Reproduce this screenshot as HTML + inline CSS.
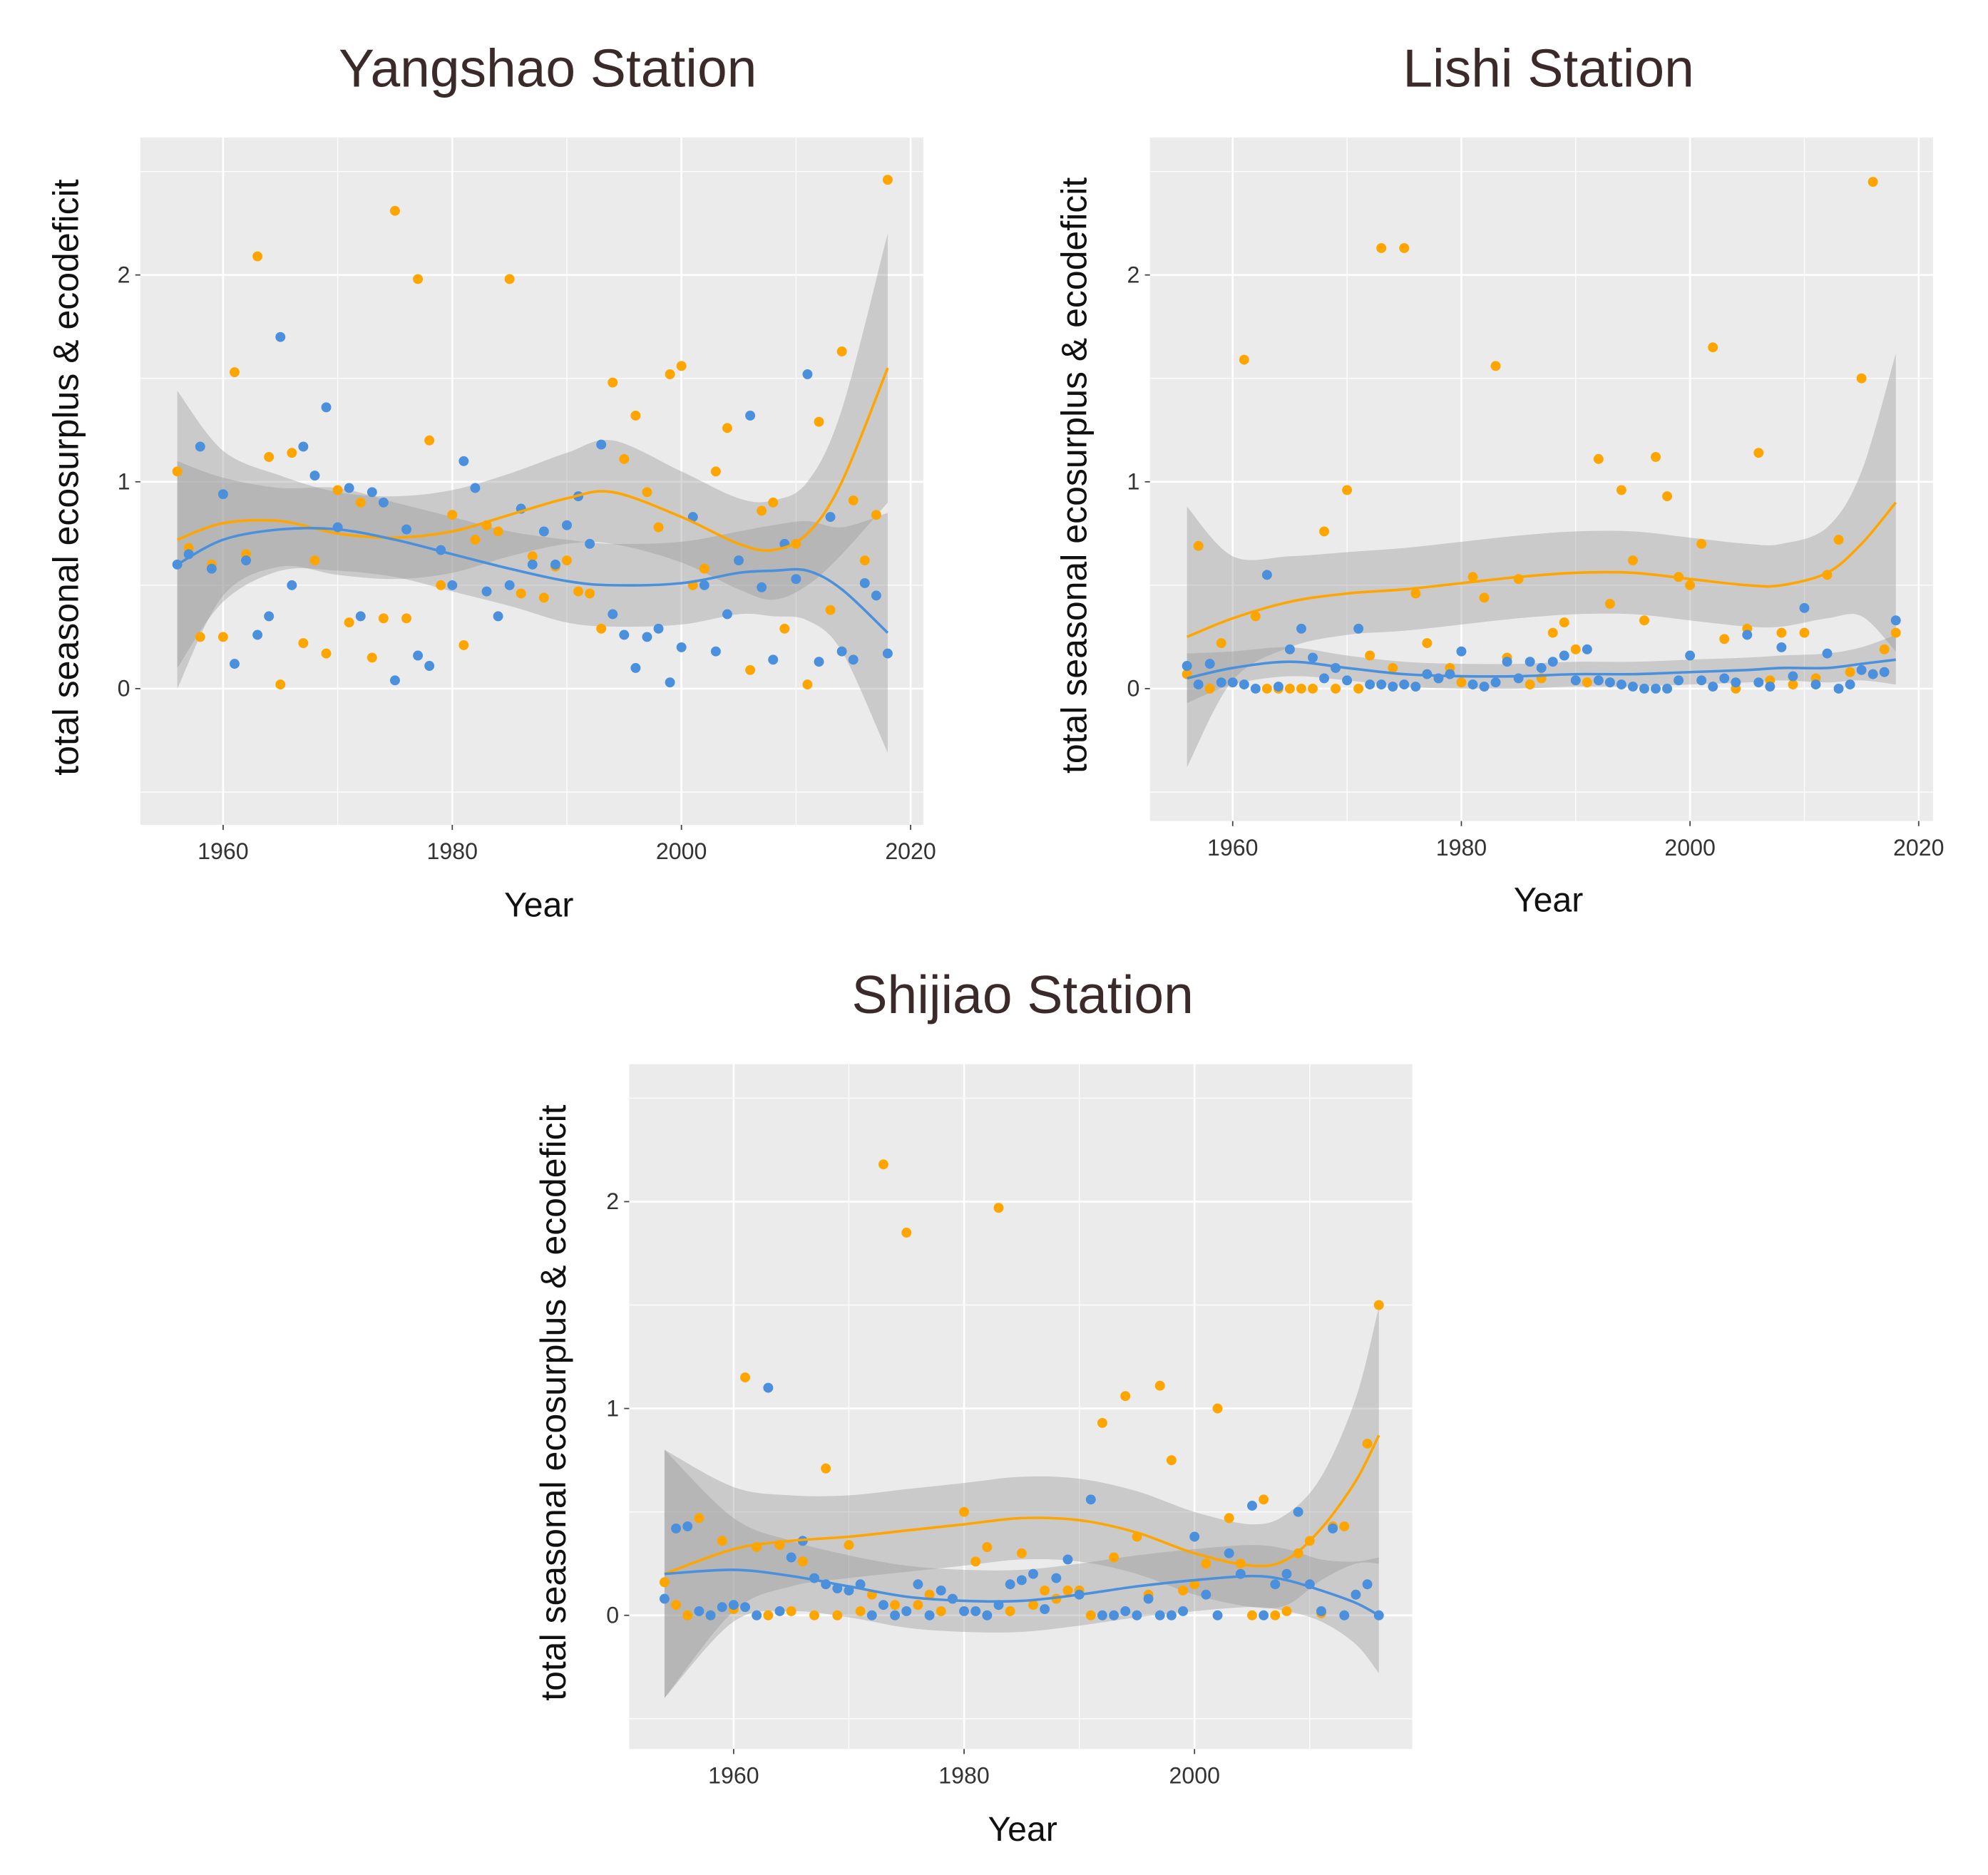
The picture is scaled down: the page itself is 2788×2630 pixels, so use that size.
<!DOCTYPE html>
<html><head><meta charset="utf-8"><style>
html,body{margin:0;padding:0;background:#fff;}
svg{display:block;}
</style></head><body>
<svg id="chart" xmlns="http://www.w3.org/2000/svg" width="2788" height="2630" viewBox="0 0 1561 1473" font-family="'Liberation Sans', sans-serif"></svg>
<script>
// ---- Data ----
const yangYears0 = 1956;
const yangOrange = [1.05,.68,.25,.6,.25,1.53,.65,2.09,1.12,.02,1.14,.22,.62,.17,.96,.32,.9,.15,.34,2.31,.34,1.98,1.2,.5,.84,.21,.72,.79,.76,1.98,.46,.64,.44,.59,.62,.47,.46,.29,1.48,1.11,1.32,.95,.78,1.52,1.56,.5,.58,1.05,1.26,.62,.09,.86,.9,.29,.7,.02,1.29,.38,1.63,.91,.62,.84,2.46];
const yangBlue = [.6,.65,1.17,.58,.94,.12,.62,.26,.35,1.7,.5,1.17,1.03,1.36,.78,.97,.35,.95,.9,.04,.77,.16,.11,.67,.5,1.1,.97,.47,.35,.5,.87,.6,.76,.6,.79,.93,.7,1.18,.36,.26,.1,.25,.29,.03,.2,.83,.5,.18,.36,.62,1.32,.49,.14,.7,.53,1.52,.13,.83,.18,.14,.51,.45,.17];
const yangTrendYears = [1956,1960,1965,1970,1975,1980,1985,1990,1994,2000,2005,2008,2011,2014,2018];
const yangOrangeTrend = [0.72,0.8,0.81,0.75,0.73,0.76,0.84,0.92,0.95,0.83,0.7,0.67,0.75,1.0,1.55];
const yangOrangeSE = [0.72,0.35,0.22,0.2,0.2,0.2,0.2,0.22,0.25,0.22,0.22,0.24,0.25,0.35,0.65];
const yangBlueTrend = [0.6,0.72,0.77,0.77,0.72,0.65,0.58,0.52,0.5,0.51,0.56,0.57,0.57,0.48,0.27];
const yangBlueSE = [0.5,0.3,0.2,0.2,0.18,0.18,0.18,0.2,0.2,0.2,0.2,0.22,0.24,0.3,0.58];

const lishiYears0 = 1956;
const lishiOrange = [.07,.69,0,.22,.03,1.59,.35,0,0,0,0,0,.76,0,.96,0,.16,2.13,.1,2.13,.46,.22,.05,.1,.03,.54,.44,1.56,.15,.53,.02,.05,.27,.32,.19,.03,1.11,.41,.96,.62,.33,1.12,.93,.54,.5,.7,1.65,.24,0,.29,1.14,.04,.27,.02,.27,.05,.55,.72,.08,1.5,2.45,.19,.27];
const lishiBlue = [.11,.02,.12,.03,.03,.02,0,.55,.01,.19,.29,.15,.05,.1,.04,.29,.02,.02,.01,.02,.01,.07,.05,.07,.18,.02,.01,.03,.13,.05,.13,.1,.13,.16,.04,.19,.04,.03,.02,.01,0,0,0,.04,.16,.04,.01,.05,.03,.26,.03,.01,.2,.06,.39,.02,.17,0,.02,.09,.07,.08,.33];
const lishiTrendYears = [1956,1960,1965,1970,1975,1980,1985,1990,1995,2000,2005,2008,2012,2015,2018];
const lishiOrangeTrend = [0.25,0.34,0.42,0.46,0.48,0.51,0.54,0.56,0.56,0.53,0.5,0.5,0.56,0.7,0.9];
const lishiOrangeSE = [0.63,0.3,0.22,0.2,0.2,0.2,0.2,0.2,0.2,0.2,0.2,0.2,0.22,0.35,0.72];
const lishiBlueTrend = [0.05,0.1,0.13,0.1,0.07,0.06,0.06,0.07,0.07,0.08,0.09,0.1,0.1,0.12,0.14];
const lishiBlueSE = [0.12,0.08,0.07,0.06,0.06,0.06,0.06,0.06,0.06,0.06,0.06,0.06,0.07,0.08,0.12];

const shiYears0 = 1954;
const shiOrange = [.16,.05,0,.47,0,.36,.03,1.15,.33,0,.34,.02,.26,0,.71,0,.34,.02,.1,2.18,.05,1.85,.05,.1,.02,.08,.5,.26,.33,1.97,.02,.3,.05,.12,.08,.12,.12,0,.93,.28,1.06,.38,.1,1.11,.75,.12,.15,.25,1.0,.47,.25,0,.56,0,.02,.3,.36,.01,.43,.43,.1,.83,1.5];
const shiBlue = [.08,.42,.43,.02,0,.04,.05,.04,0,1.1,.02,.28,.36,.18,.15,.13,.12,.15,0,.05,0,.02,.15,0,.12,.08,.02,.02,0,.05,.15,.17,.2,.03,.18,.27,.1,.56,0,0,.02,0,.08,0,0,.02,.38,.1,0,.3,.2,.53,0,.15,.2,.5,.15,.02,.42,0,.1,.15,0];
const shiTrendYears = [1954,1960,1965,1970,1975,1980,1985,1990,1995,2000,2005,2008,2011,2014,2016];
const shiOrangeTrend = [0.2,0.32,0.36,0.38,0.41,0.44,0.47,0.46,0.4,0.3,0.24,0.27,0.42,0.65,0.87];
const shiOrangeSE = [0.6,0.3,0.22,0.2,0.2,0.2,0.2,0.2,0.2,0.2,0.2,0.22,0.25,0.4,0.62];
const shiBlueTrend = [0.2,0.22,0.19,0.14,0.09,0.07,0.07,0.1,0.14,0.17,0.19,0.17,0.12,0.06,0.0];
const shiBlueSE = [0.6,0.25,0.17,0.15,0.15,0.15,0.15,0.15,0.15,0.15,0.15,0.15,0.15,0.2,0.28];

const yTicks = [0,1,2];
const ORANGE = '#FFA500', BLUE = '#4A90DC';
const NS = 'http://www.w3.org/2000/svg';
const svg = document.getElementById('chart');
function mk(tag, attrs, parent){ const e=document.createElementNS(NS,tag); for(const k in attrs) e.setAttribute(k,attrs[k]); (parent||svg).appendChild(e); return e; }

function smoothPath(pts){
  let d='M'+pts[0][0]+','+pts[0][1];
  for(let i=0;i<pts.length-1;i++){
    const p0=pts[i-1]||pts[i], p1=pts[i], p2=pts[i+1], p3=pts[i+2]||p2;
    const c1=[p1[0]+(p2[0]-p0[0])/6, p1[1]+(p2[1]-p0[1])/6];
    const c2=[p2[0]-(p3[0]-p1[0])/6, p2[1]-(p3[1]-p1[1])/6];
    d+=' C'+c1[0]+','+c1[1]+' '+c2[0]+','+c2[1]+' '+p2[0]+','+p2[1];
  }
  return d;
}

function panel(cfg){
  const g = mk('g',{});
  
  
  const {L,R,T,B,x0,xpx0,xpy,zeroY} = cfg;
  const sx = yr => xpx0 + (yr - x0)*xpy;
  const sy = v => zeroY - v*162.5;
  const bg = mk('rect',{x:L,y:T,width:R-L,height:B-T,fill:'#EBEBEB'},g);
  
  
  [-0.5,0.5,1.5,2.5].forEach(v=>{ const y=sy(v); if(y>T&&y<B) mk('line',{x1:L,x2:R,y1:y,y2:y,stroke:'#fff','stroke-width':0.7},g); });
  [1950,1970,1990,2010].forEach(v=>{ const x=sx(v); if(x>L&&x<R) mk('line',{x1:x,x2:x,y1:T,y2:B,stroke:'#fff','stroke-width':0.7},g); });
  yTicks.forEach(v=>{ const y=sy(v); mk('line',{x1:L,x2:R,y1:y,y2:y,stroke:'#fff','stroke-width':1.5},g);
    mk('line',{x1:L-4,x2:L,y1:y,y2:y,stroke:'#444','stroke-width':1},g);
    const t=mk('text',{x:L-8,y:y+6,'text-anchor':'end','font-size':18,fill:'#333'},g); t.textContent=v;
      });
  cfg.xTicks.forEach(v=>{ const x=sx(v); mk('line',{x1:x,x2:x,y1:T,y2:B,stroke:'#fff','stroke-width':1.5},g);
    mk('line',{x1:x,x2:x,y1:B,y2:B+4,stroke:'#444','stroke-width':1},g);
    const t=mk('text',{x:x,y:B+27,'text-anchor':'middle','font-size':18,fill:'#333'},g); t.textContent=v;
      });
  function ribbon(years,trend,se,name){
    const up=years.map((y,i)=>[sx(y),sy(trend[i]+se[i])]);
    const lo=years.map((y,i)=>[sx(y),sy(trend[i]-se[i])]).reverse();
    const lp=smoothPath(lo);
    const d=smoothPath(up)+' L'+lo[0][0]+','+lo[0][1]+lp.slice(lp.indexOf(' C'))+' Z';
    const p=mk('path',{d:d,fill:'#999','fill-opacity':0.4,stroke:'none'},g);
     
  }
  ribbon(cfg.ty,cfg.ot,cfg.ose,'orange-confidence-band');
  ribbon(cfg.ty,cfg.bt,cfg.bse,'blue-confidence-band');
  function pts(arr,col,name){ arr.forEach((v,i)=>{ const c=mk('circle',{cx:sx(cfg.y0+i),cy:sy(v),r:3.9,fill:col},g);
      }); }
  pts(cfg.o,ORANGE,'surplus-point');
  pts(cfg.b,BLUE,'deficit-point');
  function line(tr,col,name){ const p=mk('path',{d:smoothPath(cfg.ty.map((y,i)=>[sx(y),sy(tr[i])])),fill:'none',stroke:col,'stroke-width':2},g);
      }
  line(cfg.ot,ORANGE,'surplus-trend-line');
  line(cfg.bt,BLUE,'deficit-trend-line');
  const tt=mk('text',{x:cfg.tx,y:cfg.ty0,'text-anchor':'middle','font-size':42,fill:'#3a2a2a'},g); tt.textContent=cfg.title;
   
  const xl=mk('text',{x:cfg.xlx,y:cfg.xly,'text-anchor':'middle','font-size':27,fill:'#111'},g); xl.textContent='Year';
   
  const yc=(T+B)/2-3;
  const yl=mk('text',{x:cfg.ylx,y:yc,'text-anchor':'middle','font-size':28,fill:'#111',transform:'rotate(-90 '+cfg.ylx+' '+yc+')'},g); yl.textContent='total seasonal ecosurplus & ecodeficit';
   
}

panel({name:'yangshao-panel',L:110,R:725,T:108,B:648,x0:1960,xpx0:175,xpy:9,zeroY:541,xTicks:[1960,1980,2000,2020],
  y0:yangYears0,o:yangOrange,b:yangBlue,ty:yangTrendYears,ot:yangOrangeTrend,ose:yangOrangeSE,bt:yangBlueTrend,bse:yangBlueSE,
  title:'Yangshao Station',tx:430,ty0:68,xlx:423,xly:720,ylx:61});
panel({name:'lishi-panel',L:903,R:1518,T:108,B:645,x0:1960,xpx0:968,xpy:8.98,zeroY:541,xTicks:[1960,1980,2000,2020],
  y0:lishiYears0,o:lishiOrange,b:lishiBlue,ty:lishiTrendYears,ot:lishiOrangeTrend,ose:lishiOrangeSE,bt:lishiBlueTrend,bse:lishiBlueSE,
  title:'Lishi Station',tx:1216,ty0:68,xlx:1216,xly:716,ylx:853});
panel({name:'shijiao-panel',L:494,R:1109,T:836,B:1374,x0:1960,xpx0:576,xpy:9.05,zeroY:1269,xTicks:[1960,1980,2000],
  y0:shiYears0,o:shiOrange,b:shiBlue,ty:shiTrendYears,ot:shiOrangeTrend,ose:shiOrangeSE,bt:shiBlueTrend,bse:shiBlueSE,
  title:'Shijiao Station',tx:803,ty0:796,xlx:803,xly:1446,ylx:444});
</script>
</body></html>
